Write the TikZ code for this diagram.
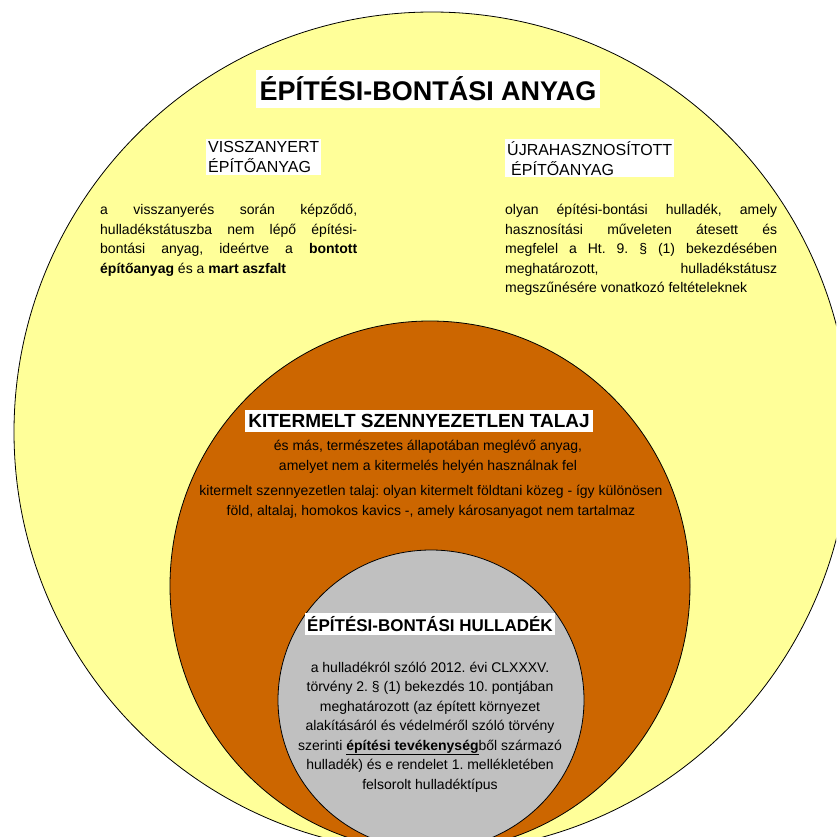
\documentclass[tikz,border=0pt]{standalone}
\usepackage{fontspec}
\setmainfont{Liberation Sans}
\usetikzlibrary{positioning}
\frenchspacing

\definecolor{sarga}{RGB}{255,255,153}
\definecolor{barna}{RGB}{204,102,0}
\definecolor{szurke}{RGB}{192,192,192}

\tikzset{
  halmaz/.style={draw=black, line width=0.8pt},
  cimdoboz/.style={fill=white, inner sep=2pt, align=left},
  szoveg/.style={inner sep=0pt, font=\fontsize{14}{19.5}\selectfont},
}

\begin{document}
\begin{tikzpicture}[x=1pt,y=-1pt]
\useasboundingbox (0,0) rectangle (836,837);

% ovals
\begin{scope}
\clip (0,0) rectangle (836,837);
\draw[halmaz, fill=sarga] (432,432) ellipse [x radius=418pt, y radius=420pt];
\draw[halmaz, fill=barna] (430,586) ellipse [x radius=260pt, y radius=265pt];
\draw[halmaz, fill=szurke] (431,700) ellipse [x radius=153pt, y radius=150pt];
\end{scope}

% yellow area
\node[cimdoboz, font=\fontsize{27}{30}\selectfont\bfseries, inner xsep=4pt, inner ysep=7pt] (anyag) at (428,89) {ÉPÍTÉSI-BONTÁSI ANYAG};

\node[cimdoboz, font=\fontsize{16}{20}\selectfont, anchor=north west] (visszanyert) at (206,139) {VISSZANYERT\\ÉPÍTŐANYAG};
\node[cimdoboz, font=\fontsize{16}{20}\selectfont, anchor=north west] (ujrahasznositott) at (505,139) {ÚJRAHASZNOSÍTOTT\\\hspace*{4pt}ÉPÍTŐANYAG};

\node[szoveg, text width=257pt, align=justify, anchor=north west] (visszanyert leiras) at (100,204)
  {a visszanyerés során képződő,\linebreak hulladékstátuszba nem lépő építési-\linebreak bontási anyag, ideértve a \textbf{bontott}\linebreak \textbf{építőanyag} és a \textbf{mart aszfalt}};
\node[szoveg, text width=272pt, align=justify, anchor=north west] (ujrahasznositott leiras) at (505,204)
  {olyan építési-bontási hulladék, amely\linebreak hasznosítási műveleten átesett és\linebreak megfelel a Ht. 9. § (1) bekezdésében\linebreak meghatározott, hulladékstátusz\linebreak megszűnésére vonatkozó feltételeknek};

% orange area
\node[cimdoboz, font=\fontsize{19}{22}\selectfont\bfseries, inner xsep=3pt, inner ysep=4pt] (talaj) at (419,421) {KITERMELT SZENNYEZETLEN TALAJ};
\node[szoveg, align=center] (talaj leiras) at (428,457)
  {és más, természetes állapotában meglévő anyag,\\amelyet nem a kitermelés helyén használnak fel};
\node[szoveg, align=center] (talaj meghatarozas) at (431,502)
  {kitermelt szennyezetlen talaj: olyan kitermelt földtani közeg - így különösen\\föld, altalaj, homokos kavics -, amely károsanyagot nem tartalmaz};

% grey area
\node[cimdoboz, font=\fontsize{17}{20}\selectfont\bfseries, inner ysep=3pt] (hulladek) at (430,624) {ÉPÍTÉSI-BONTÁSI HULLADÉK};
\node[szoveg, align=center] (hulladek leiras) at (430,727)
  {a hulladékról szóló 2012. évi CLXXXV.\\törvény 2. § (1) bekezdés 10. pontjában\\meghatározott (az épített környezet\\alakításáról és védelméről szóló törvény\\szerinti \underline{\textbf{építési tevékenység}}ből származó\\hulladék) és e rendelet 1. mellékletében\\felsorolt hulladéktípus};

\end{tikzpicture}
\end{document}
